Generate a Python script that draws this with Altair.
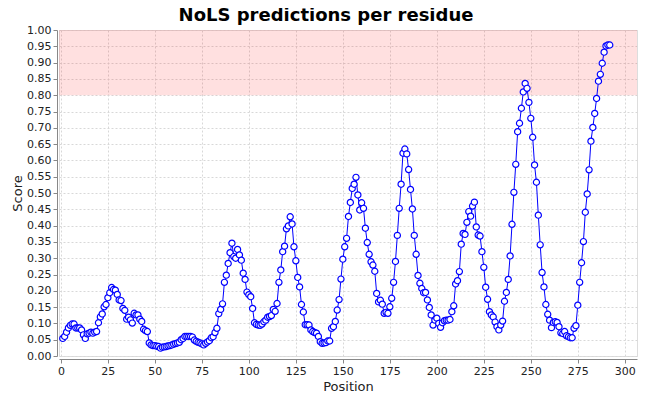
import altair as alt
import pandas as pd

positions = list(range(1, 293))
scores = [
    0.054, 0.060, 0.073, 0.086, 0.094, 0.098, 0.098, 0.086, 0.086, 0.086,
    0.080, 0.065, 0.054, 0.068, 0.070, 0.073, 0.070, 0.073, 0.075, 0.102,
    0.120, 0.129, 0.151, 0.158, 0.179, 0.194, 0.210, 0.204, 0.202, 0.189,
    0.172, 0.170, 0.146, 0.140, 0.113, 0.119, 0.111, 0.101, 0.131, 0.126,
    0.126, 0.113, 0.106, 0.082, 0.078, 0.075, 0.040, 0.034, 0.032, 0.032,
    0.030, 0.029, 0.024, 0.027, 0.028, 0.029, 0.031, 0.032, 0.034, 0.036,
    0.038, 0.040, 0.042, 0.050, 0.054, 0.060, 0.060, 0.060, 0.060, 0.058,
    0.049, 0.045, 0.042, 0.040, 0.037, 0.034, 0.039, 0.043, 0.047, 0.056,
    0.059, 0.072, 0.085, 0.130, 0.143, 0.160, 0.226, 0.248, 0.284, 0.317,
    0.346, 0.305, 0.300, 0.327, 0.310, 0.294, 0.254, 0.235, 0.196, 0.188,
    0.182, 0.146, 0.102, 0.097, 0.095, 0.094, 0.098, 0.105, 0.110, 0.119,
    0.121, 0.124, 0.143, 0.137, 0.161, 0.226, 0.264, 0.320, 0.337, 0.390,
    0.399, 0.427, 0.405, 0.335, 0.292, 0.241, 0.212, 0.158, 0.135, 0.096,
    0.096, 0.095, 0.080, 0.075, 0.072, 0.070, 0.060, 0.044, 0.039, 0.040,
    0.041, 0.046, 0.046, 0.085, 0.090, 0.106, 0.141, 0.173, 0.236, 0.297,
    0.335, 0.361, 0.428, 0.471, 0.514, 0.527, 0.548, 0.494, 0.448, 0.470,
    0.453, 0.392, 0.348, 0.312, 0.289, 0.279, 0.260, 0.192, 0.166, 0.171,
    0.159, 0.131, 0.134, 0.131, 0.151, 0.177, 0.226, 0.290, 0.370, 0.453,
    0.527, 0.622, 0.635, 0.620, 0.572, 0.511, 0.451, 0.370, 0.312, 0.247,
    0.223, 0.207, 0.194, 0.195, 0.172, 0.149, 0.126, 0.095, 0.110, 0.116,
    0.100, 0.088, 0.102, 0.108, 0.110, 0.110, 0.112, 0.136, 0.154, 0.221,
    0.231, 0.259, 0.343, 0.376, 0.373, 0.410, 0.443, 0.429, 0.460, 0.472,
    0.396, 0.371, 0.368, 0.320, 0.272, 0.211, 0.174, 0.136, 0.126, 0.120,
    0.104, 0.090, 0.080, 0.095, 0.107, 0.168, 0.195, 0.235, 0.307, 0.404,
    0.502, 0.588, 0.688, 0.714, 0.760, 0.810, 0.836, 0.821, 0.778, 0.729,
    0.671, 0.586, 0.533, 0.432, 0.341, 0.256, 0.212, 0.158, 0.128, 0.110,
    0.087, 0.103, 0.105, 0.103, 0.090, 0.071, 0.069, 0.075, 0.062, 0.059,
    0.056, 0.056, 0.085, 0.093, 0.156, 0.226, 0.286, 0.351, 0.441, 0.497,
    0.571, 0.659, 0.701, 0.744, 0.790, 0.843, 0.864, 0.898, 0.932, 0.951,
    0.954, 0.954,
]
band_low = [0.80]
band_high = [1.00]
x_ticks = list(range(0, 301, 25))
y_ticks = [round(i * 0.05, 2) for i in range(21)]

df = pd.DataFrame({"Position": positions, "Score": scores})
band_df = pd.DataFrame({"lo": band_low, "hi": band_high})

W, H = 578, 326
FONT = "DejaVu Sans"

xscale = alt.Scale(domain=[-1, 306.5], nice=False, zero=False)
yscale = alt.Scale(domain=[0, 1], nice=False)

common_axis = dict(
    domainColor="#888888", tickColor="#888888", tickSize=4,
    labelFont=FONT, labelFontSize=11, labelColor="#222222",
    titleFont=FONT, titleFontSize=13, titleFontWeight="normal", titleColor="#222222",
    grid=True, gridColor="#d8d8d8", gridDash=[2, 2], gridWidth=1,
)
x_axis = alt.Axis(values=x_ticks, title="Position", offset=3, labelPadding=2,
                  titlePadding=4, **common_axis)
y_axis = alt.Axis(values=y_ticks, format=".2f", title="Score", offset=2,
                  labelPadding=2, titlePadding=2, **common_axis)

band = alt.Chart(band_df).mark_rect(color="#ff0000", opacity=0.12).encode(
    x=alt.value(0), x2=alt.value(W),
    y=alt.Y("lo:Q", scale=yscale, axis=y_axis),
    y2="hi:Q",
)

line = alt.Chart(df).mark_line(color="#0000ff", strokeWidth=1).encode(
    x=alt.X("Position:Q", scale=xscale, axis=x_axis),
    y=alt.Y("Score:Q", scale=yscale, axis=y_axis),
)

pts = alt.Chart(df).mark_point(
    shape="circle", filled=True, fill="white", stroke="#0000ff",
    strokeWidth=1.2, size=38, opacity=1,
).encode(
    x=alt.X("Position:Q", scale=xscale, axis=x_axis),
    y=alt.Y("Score:Q", scale=yscale, axis=y_axis),
)

chart = alt.layer(band, line, pts).properties(
    width=W, height=H,
    title=alt.TitleParams("NoLS predictions per residue", font=FONT, fontSize=18,
                          fontWeight="bold", color="#000000", anchor="middle",
                          dx=-22, offset=0, dy=1),
    padding={"left": 51, "top": 22, "right": 5, "bottom": 40},
    autosize=alt.AutoSizeParams(type="none"),
).configure_view(stroke="#aaaaaa", strokeWidth=1).configure(background="white")

chart.save("out.html", embed_options={"renderer": "svg", "actions": False})
